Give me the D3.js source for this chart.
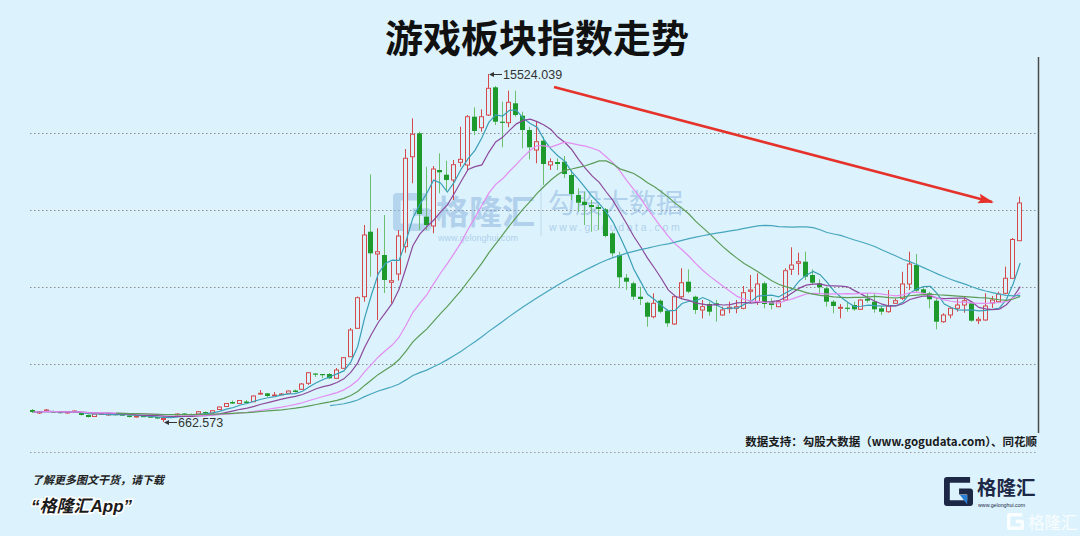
<!DOCTYPE html>
<html><head><meta charset="utf-8">
<script src="https://cdn.jsdelivr.net/npm/d3@7"></script>
<style>html,body{margin:0;padding:0;background:#dcf3fd}svg{display:block}</style>
</head><body><svg id="c" width="1080" height="536"></svg>
<script>
// ---- data (index points, one per trading day) ----
const opens = [
1175,1047,1154,1132,1090,1047,1111,1047,962,897,
983,962,1004,983,940,876,919,897,876,769,
897,962,1026,1004,1004,1090,1047,1196,1324,1517,
1453,1538,1530,1858,1888,1794,1837,1888,2008,2059,
2315,2734,2712,2712,2529,2956,3451,4664,6013,8789,
7837,7794,6628,6983,8149,11992,12992,9430,9033,11424,
11224,10997,11753,11638,13700,13231,13773,14956,13487,13444,
14273,13743,13132,12278,12676,11638,11766,11779,11211,10357,
10070,9930,9844,9746,8721,7794,6825,6586,6013,5757,
5159,5843,5416,4848,6013,6654,6013,5446,5702,5732,
5232,5501,5518,5518,6244,5800,6586,5800,5587,5873,
7184,7440,7508,6940,6586,6372,5800,5518,5544,5659,
5475,5928,5800,5518,5373,5732,5945,6556,7367,6330,
6159,5843,4946,5232,5518,5659,5732,4989,5019,5745,
5800,6159,6799,8405];
const closes = [
1090,1090,1175,1068,1047,1090,1132,962,876,1004,
1026,1004,962,962,876,919,885,876,812,812,
876,1004,983,983,1102,1047,1145,1303,1453,1453,
1581,1474,1773,1888,1773,1816,1858,1986,1944,2285,
2768,2712,2691,2529,2883,3409,4592,5971,8648,7867,
7935,6727,6697,8606,11924,12949,9545,9075,11467,11326,
10997,11651,11881,13700,13090,13700,14913,13487,13444,14315,
13773,13132,12394,12633,11680,11779,11680,11253,10399,10028,
9930,9844,9759,8606,7867,6842,6654,6013,5915,5159,
5732,5373,4878,6013,6611,6227,5446,5587,5373,5646,
5446,5561,5587,6184,6300,6556,5702,5659,5800,7124,
7367,7508,6868,6611,6415,5800,5616,5561,5501,5475,
5873,5843,5475,5373,5616,5843,6556,7410,6270,6159,
5903,4946,5232,5518,5659,5843,4989,5048,5616,5873,
6129,6799,8456,10015];
const highs = [
1218,1111,1218,1154,1111,1132,1154,1068,983,1026,
1047,1026,1026,1004,962,940,940,919,897,833,
919,1026,1047,1026,1132,1111,1175,1324,1474,1581,
1602,1602,1794,2029,1901,1944,1901,2008,2050,2328,
2798,2755,2712,2755,2969,3438,4677,6022,9075,11241,
8935,9503,7495,8862,12321,13632,13060,11565,11595,12137,
11821,11851,13273,13773,14102,14016,15524.039,15012,14341,14811,
14811,13914,13273,13487,12846,11924,11924,12022,11424,10643,
10497,10143,9930,9802,8789,7935,6983,6654,6441,5800,
6159,5903,5475,6086,7226,7184,6056,5873,5800,5873,
5587,5800,5873,6471,6940,7013,6654,5945,5873,7226,
8123,7893,7935,7184,6757,6441,5873,5702,5757,5800,
5903,6159,6159,5616,6300,5945,7081,7935,7837,6471,
6227,5945,5305,5587,5903,5988,5800,5159,6159,6043,
6227,7295,8520,10284];
const lows = [
1047,1004,1132,1047,1026,1026,1090,940,855,876,
962,940,940,940,855,855,876,855,791,662.573,
855,940,962,962,983,1026,1026,1175,1303,1431,
1431,1453,1517,1837,1730,1773,1816,1867,1922,2029,
2243,2584,2542,2499,2499,2926,3438,4634,5800,6868,
5019,6172,5745,6705,7893,10856,8862,8862,8721,10429,
10570,10143,11565,11424,12919,13060,13730,13346,12394,13248,
13700,12351,11881,11710,10784,11424,11424,11083,10143,9643,
9075,8789,8862,8550,7722,6372,6300,5873,5659,4732,
5091,5305,4732,4805,5945,6159,5275,5091,5202,4946,
5202,5305,5305,5475,5732,5659,5518,5475,5561,5843,
6940,6940,6727,6556,6159,5587,5305,5091,5373,5416,
5446,5757,5330,5232,5330,5702,5873,6300,6227,6086,
5518,4621,4903,5091,5373,5330,4946,4848,4989,5531,
5787,6129,6769,8392];
// moving-average periods and where each line begins in the view
const maPeriods = [5, 10, 20, 30, 60];
const maStarts  = [0, 0, 0, 12, 43];
const maColors  = ["#3a9fb6", "#8d4a9c", "#e38cf2", "#5c9c58", "#47a6bd"];
const extremeLabels = ["15524.039", "662.573"];
const gridValues = [3140, 6428, 9716, 13004];
const titleText = "游戏板块指数走势";
const sourceText = "数据支持：勾股大数据（www.gogudata.com）、同花顺";

// ---- drawing ----
const svg = d3.select("#c");
const BG = "#dcf3fd";
svg.append("rect").attr("width",1080).attr("height",536).attr("fill",BG);
const CJK = "'Noto Sans CJK SC','Noto Sans',sans-serif";
const LAT = "'Liberation Sans',Arial,sans-serif";

const n = opens.length;
const x = d3.scalePoint().domain(d3.range(n)).range([33.3, 1020.2]);
const y = d3.scaleLinear().domain([+extremeLabels[1], +extremeLabels[0]]).range([422, 74]);

// grid lines
const grid = svg.append("g");
grid.selectAll("line").data(gridValues).join("line")
  .attr("x1",30).attr("x2",1038)
  .attr("y1",d=>Math.round(y(d))+0.5).attr("y2",d=>Math.round(y(d))+0.5)
  .attr("stroke","#8c8c8c").attr("stroke-width",1).attr("stroke-dasharray","1.5,2.5");
svg.append("line").attr("x1",30).attr("x2",1038).attr("y1",452.5).attr("y2",452.5)
  .attr("stroke","#9a9a9a").attr("stroke-width",1).attr("stroke-dasharray","1.5,2.5");

// watermark (center)
function gIcon(g, x0, y0, s, col, accent){
  const w = s*0.2;
  g.append("path")
    .attr("d",`M${x0+s-w/2},${y0+w/2} L${x0+w/2},${y0+w/2} L${x0+w/2},${y0+s-w/2} L${x0+s-w/2},${y0+s-w/2} L${x0+s-w/2},${y0+s*0.5} L${x0+s*0.52},${y0+s*0.5}`)
    .attr("fill","none").attr("stroke",col).attr("stroke-width",w).attr("stroke-linejoin","round");
  if(accent){
    g.append("path").attr("d",`M${x0+s*0.55},${y0+s*0.62} L${x0+s*0.8},${y0+s*0.62} L${x0+s*0.8},${y0+s*0.95} Z`).attr("fill",accent);
  }
}
const wm = svg.append("g").attr("opacity",0.5);
gIcon(wm, 393, 193, 38, "#8fb6de", null);
wm.append("text").attr("x",436).attr("y",224).attr("font-family",CJK).attr("font-size",33).attr("font-weight",700)
  .attr("fill","#86aedb").text("格隆汇");
wm.append("text").attr("x",438).attr("y",241).attr("font-family",LAT).attr("font-size",9)
  .attr("fill","#86aedb").text("www.gelonghui.com");
wm.append("line").attr("x1",541).attr("x2",541).attr("y1",185).attr("y2",236).attr("stroke","#a8c4dc").attr("stroke-width",1);
wm.append("text").attr("x",548).attr("y",213).attr("font-family",CJK).attr("font-size",27)
  .attr("fill","#86aedb").text("勾股大数据");
wm.append("text").attr("x",549).attr("y",231).attr("font-family",LAT).attr("font-size",10.5).attr("letter-spacing",2.6)
  .attr("fill","#86aedb").text("www.gogudata.com");

// candles
const idx = d3.range(n);
const isUp = i => closes[i] >= opens[i];
const RED = "#d44a4a", GREEN = "#1e9a2c", GWICK = "#6cbf6c";
const cg = svg.append("g");
idx.forEach(i=>{
  const cx = Math.round(x(i));
  const top = Math.min(y(opens[i]), y(closes[i]));
  const bot = Math.max(y(opens[i]), y(closes[i]));
  if(isUp(i)){
    cg.append("line").attr("x1",cx-0.5).attr("x2",cx-0.5).attr("y1",y(highs[i])).attr("y2",top).attr("stroke",RED);
    cg.append("line").attr("x1",cx-0.5).attr("x2",cx-0.5).attr("y1",bot).attr("y2",y(lows[i])).attr("stroke",RED);
    cg.append("rect").attr("x",cx-2.5).attr("width",4).attr("y",top).attr("height",Math.max(0.8,bot-top))
      .attr("fill",BG).attr("stroke",RED).attr("stroke-width",1);
  } else {
    cg.append("line").attr("x1",cx-0.5).attr("x2",cx-0.5).attr("y1",y(highs[i])).attr("y2",y(lows[i])).attr("stroke",GWICK);
    cg.append("rect").attr("x",cx-3).attr("width",5).attr("y",top).attr("height",Math.max(1.2,bot-top))
      .attr("fill",GREEN);
  }
});

// moving averages
maPeriods.forEach((p,k)=>{
  const vals = idx.map(i => i < maStarts[k] ? null : d3.mean(closes.slice(Math.max(0,i-p+1), i+1)));
  const line = d3.line().defined(d=>d!=null).x((d,i)=>x(i)).y(d=>y(d));
  svg.append("path").attr("d", line(vals)).attr("fill","none").attr("stroke",maColors[k]).attr("stroke-width",1.2);
});

// extreme labels
const hiIdx = highs.indexOf(d3.max(highs)), loIdx = lows.indexOf(d3.min(lows));
function extremeLabel(i, v, txt){
  const cx = Math.round(x(i)), cy = Math.round(y(v));
  svg.append("line").attr("x1",cx+1).attr("x2",cx+13).attr("y1",cy+0.5).attr("y2",cy+0.5).attr("stroke","#333");
  svg.append("path").attr("d",`M${cx},${cy+0.5} L${cx+5},${cy-2} L${cx+5},${cy+3} Z`).attr("fill","#333");
  svg.append("text").attr("x",cx+14).attr("y",cy).attr("dy","0.36em").attr("font-family",LAT).attr("font-size",12.5)
    .attr("fill","#333").text(txt);
}
extremeLabel(hiIdx, highs[hiIdx], extremeLabels[0]);
extremeLabel(loIdx, lows[loIdx], extremeLabels[1]);

// trend arrow
const defs = svg.append("defs");
defs.append("marker").attr("id","ah").attr("markerUnits","userSpaceOnUse").attr("markerWidth",16).attr("markerHeight",10)
  .attr("refX",14).attr("refY",5).attr("orient","auto")
  .append("path").attr("d","M0,0 L16,5 L0,10 L3,5 Z").attr("fill","#e5322b");
svg.append("line").attr("x1",554).attr("y1",87).attr("x2",992).attr("y2",202)
  .attr("stroke","#e5322b").attr("stroke-width",2.6).attr("marker-end","url(#ah)");

// right axis line
svg.append("line").attr("x1",1038.5).attr("x2",1038.5).attr("y1",57).attr("y2",433).attr("stroke","#4a4a4a").attr("stroke-width",1.5);

// title
svg.append("text").attr("x",537).attr("y",52).attr("text-anchor","middle").attr("font-family",CJK)
  .attr("font-size",38).attr("font-weight",700).attr("fill","#111").text(titleText);

// source
svg.append("text").attr("x",1037).attr("y",446).attr("text-anchor","end").attr("font-family",CJK)
  .attr("font-size",11.5).attr("font-weight",700).attr("fill","#1a1a1a").text(sourceText);

// bottom-left promo
svg.append("text").attr("x",32).attr("y",484).attr("font-family",CJK).attr("font-size",11).attr("font-weight",700)
  .attr("font-style","italic").attr("fill","#222").text("了解更多图文干货，请下载");
const promo = svg.append("text").attr("x",31).attr("y",512).attr("font-size",17).attr("font-weight",700)
  .attr("font-style","italic").attr("fill","#1a1a1a").attr("stroke","#fff").attr("stroke-width",3)
  .attr("paint-order","stroke").attr("font-family",CJK);
promo.append("tspan").attr("font-family",LAT).text("“");
promo.append("tspan").text("格隆汇");
promo.append("tspan").attr("font-family",LAT).text("App”");

// bottom-right logo
const lg = svg.append("g");
gIcon(lg, 944, 477, 29, "#1c2846", "#2b7fd6");
lg.append("text").attr("x",977).attr("y",494.5).attr("font-family",CJK).attr("font-size",19.5).attr("font-weight",700)
  .attr("fill","#1c2846").text("格隆汇");
lg.append("text").attr("x",978).attr("y",506.5).attr("font-family",LAT).attr("font-size",5.3)
  .attr("fill","#1c2846").text("www.gelonghui.com");

// corner watermark
const cw = svg.append("g").attr("opacity",0.85);
gIcon(cw, 1007, 513, 17, "#ffffff", null);
cw.append("text").attr("x",1028).attr("y",529).attr("font-family",CJK).attr("font-size",16.5)
  .attr("fill","#ffffff").text("格隆汇");
</script>
</body></html>
